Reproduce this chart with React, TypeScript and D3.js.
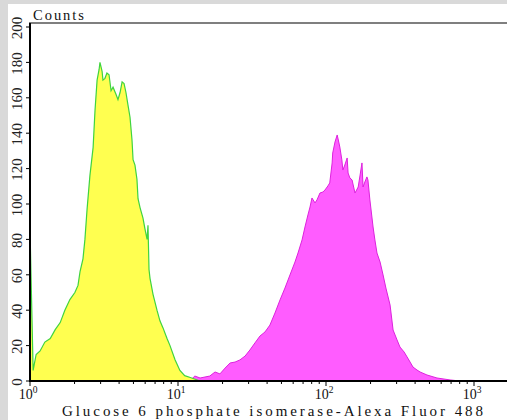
import React from "react";
import * as d3 from "d3";

// Negative control (yellow / green outline): intensity, counts
const ctrlX = [1.0, 1.0, 1.05, 1.10, 1.17, 1.26, 1.37, 1.48, 1.60, 1.72, 1.86, 2.01, 2.11, 2.18, 2.28, 2.35, 2.43, 2.54, 2.67, 2.75, 2.84, 2.93, 2.97, 3.07, 3.11, 3.21, 3.31, 3.42, 3.53, 3.64, 3.81, 3.93, 4.06, 4.19, 4.32, 4.45, 4.59, 4.74, 4.89, 4.97, 5.12, 5.28, 5.37, 5.54, 5.80, 5.98, 6.18, 6.27, 6.37, 6.47, 6.78, 7.21, 7.55, 7.92, 8.43, 8.83, 9.55, 10.3, 11.1, 12.1, 14.1];
const ctrlY = [0, 86, 6, 15, 17, 22, 24, 29, 33, 40, 46, 50, 54, 62, 69, 80, 97, 116, 132, 153, 170, 176, 180, 175, 170, 171, 174, 173, 164, 166, 162, 159, 163, 169, 168, 163, 156, 149, 136, 125, 122, 114, 103, 98, 92, 86, 80, 88, 63, 58, 49, 40, 34, 30, 24, 20, 12, 6, 3, 2, 0];

// Stained sample (magenta): intensity, counts
const sampX = [12.0, 13.0, 14.1, 16.4, 17.8, 19.2, 20.8, 22.5, 24.3, 26.2, 28.4, 30.6, 33.1, 35.8, 38.7, 41.8, 45.2, 48.9, 52.8, 57.1, 61.7, 64.7, 68.9, 72.1, 75.5, 78.0, 80.4, 84.3, 86.9, 91.0, 95.4, 98.4, 103, 106, 110, 111, 115, 119, 122, 124, 128, 130, 134, 139, 141, 145, 150, 157, 165, 170, 175, 178, 183, 189, 192, 198, 208, 214, 221, 232, 243, 254, 271, 284, 302, 316, 337, 353, 370, 387, 412, 432, 481, 562, 689, 804];
const sampY = [0, 2.8, 1.7, 2.8, 5.1, 4, 7.3, 10.2, 10.7, 11.9, 14.1, 17.5, 21.5, 25.4, 27.7, 31.6, 38.4, 45.8, 52.5, 59.9, 67.2, 72.3, 79.7, 87, 93.8, 98.3, 103.4, 100.6, 102.3, 106.2, 106.8, 107.9, 110.2, 111.9, 123.2, 128.8, 135, 139, 135, 132.2, 124.9, 119.2, 122, 126, 117.5, 114.7, 113.6, 106.2, 109.6, 116.4, 123.2, 109.6, 112.4, 115.3, 113.6, 102.3, 87, 79.7, 72.3, 67.2, 59.9, 52.5, 42.9, 28.8, 23.2, 19.2, 16.4, 13.6, 10.7, 7.9, 6.2, 5.1, 3.4, 1.7, 0.6, 0];

const yTicks = [0, 20, 40, 60, 80, 100, 120, 140, 160, 180, 200];
const xDecades = [0, 1, 2, 3];
const xTitle = "Glucose 6 phosphate isomerase-Alexa Fluor 488";
const yTitle = "Counts";

const W = 507, H = 420;
const left = 30, bottom = 381, top = 23;

export default function App() {
  const x = d3.scaleLog().domain([1, 10 ** 3.5]).range([left, left + 148 * 3.5]);
  const y = d3.scaleLinear().domain([0, 200]).range([bottom, 27]);

  const ctrl = ctrlX.map((v, i) => [v, ctrlY[i]] as [number, number]);
  const samp = sampX.map((v, i) => [v, sampY[i]] as [number, number]);

  const area = d3.area<[number, number]>().x(d => x(d[0])).y0(bottom).y1(d => y(d[1]));
  const line = d3.line<[number, number]>().x(d => x(d[0])).y(d => y(d[1]));

  const minor: number[] = [];
  for (let dcd = 0; dcd < 4; dcd++) for (let k = 2; k <= 9; k++) minor.push(k * 10 ** dcd);

  const font = "'Liberation Serif', 'DejaVu Serif', serif";

  return (
    <svg width={W} height={H} style={{ position: "absolute", left: 0, top: 0, background: "#fff" }}>
      <rect x={0} y={0} width={W} height={H} fill="#fff" />
      {/* outer light frame */}
      <rect x={0} y={0} width={8} height={H} fill="#d9d9d9" />
      <rect x={0} y={0} width={W} height={4} fill="#d9d9d9" />

      <path d={area(samp) || ""} fill="#ff5cff" />
      <path d={line(samp) || ""} fill="none" stroke="#dd22dd" strokeWidth={1} />
      <path d={area(ctrl) || ""} fill="#ffff50" />
      <path d={line(ctrl) || ""} fill="none" stroke="#3fd43f" strokeWidth={1.2} />

      {/* top line */}
      <line x1={29} x2={W} y1={top} y2={top} stroke="#7f7f7f" strokeWidth={2} />
      {/* axes */}
      <line x1={left} x2={left} y1={top} y2={bottom + 1} stroke="#000" strokeWidth={2} />
      <line x1={left - 1} x2={W} y1={bottom} y2={bottom} stroke="#000" strokeWidth={2} />

      {yTicks.map(t => (
        <g key={t}>
          <line x1={left - 4} x2={left} y1={y(t)} y2={y(t)} stroke="#000" strokeWidth={1} />
          <text
            transform={`translate(${22},${y(t) + 1}) rotate(-90)`}
            textAnchor="middle"
            fontFamily={font}
            fontSize={15}
            fill="#222"
          >{t}</text>
        </g>
      ))}

      {minor.map(v => (
        <line key={v} x1={x(v)} x2={x(v)} y1={bottom} y2={bottom + 3} stroke="#000" strokeWidth={1} />
      ))}
      {xDecades.map(dcd => (
        <g key={dcd}>
          <line x1={x(10 ** dcd)} x2={x(10 ** dcd)} y1={bottom} y2={bottom + 5} stroke="#000" strokeWidth={1} />
          <text x={x(10 ** dcd) - 2} y={399} textAnchor="middle" fontFamily={font} fontSize={14} fill="#111">
            10<tspan dy={-6} fontSize={9.5}>{dcd}</tspan>
          </text>
        </g>
      ))}

      <text x={33} y={20} fontFamily={font} fontSize={14.5} fill="#111" textLength={51} lengthAdjust="spacing">{yTitle}</text>
      <text x={62} y={416} fontFamily={font} fontSize={15} fill="#111" textLength={421} lengthAdjust="spacing">{xTitle}</text>
    </svg>
  );
}
